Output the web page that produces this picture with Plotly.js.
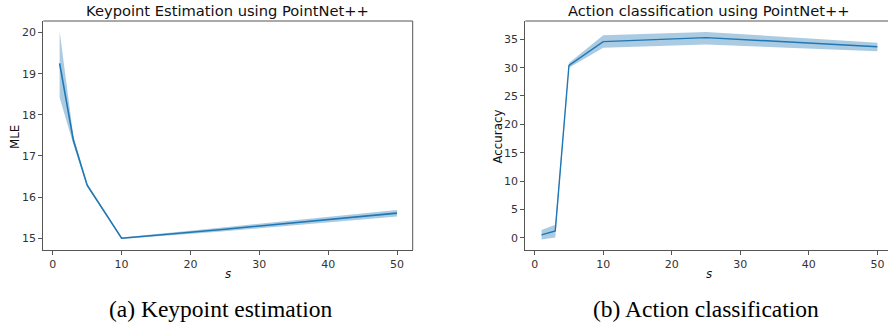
<!DOCTYPE html>
<html>
<head>
<meta charset="utf-8">
<script src="https://cdn.plot.ly/plotly-3.0.1.min.js"></script>
<style>
html,body{margin:0;padding:0;background:#fff;overflow:hidden;}
#chart{width:888px;height:327px;}
</style>
</head>
<body>
<div id="chart"></div>
<script>
// Shared x values (s)
var sValues = [1, 3, 5, 10, 25, 50];

// (a) Keypoint estimation: MLE mean and confidence band
var mleMean  = [19.25, 17.38, 16.29, 15.00, 15.22, 15.61];
var mleUpper = [20.03, 17.48, 16.33, 15.02, 15.27, 15.69];
var mleLower = [18.42, 17.28, 16.25, 14.98, 15.17, 15.53];

// (b) Action classification: accuracy mean and confidence band
var accMean  = [0.5, 1.2, 30.4, 34.6, 35.3, 33.7];
var accUpper = [1.35, 2.3, 30.8, 35.7, 36.3, 34.4];
var accLower = [-0.3, 0.05, 30.0, 33.5, 34.1, 32.9];

var xTicks = [0, 10, 20, 30, 40, 50];
var leftYTicks = [15, 16, 17, 18, 19, 20];
var rightYTicks = [0, 5, 10, 15, 20, 25, 30, 35];

var titleA = 'Keypoint Estimation using PointNet++';
var titleB = 'Action classification using PointNet++';
var ylabelA = 'MLE';
var ylabelB = 'Accuracy';
var xlabel = 's';
var captionA = '(a) Keypoint estimation';
var captionB = '(b) Action classification';

var W = 888, H = 327;
function px(x){ return x / W; }
function py(y){ return 1 - y / H; }

var lineColor = '#1f77b4';
var bandColor = 'rgba(31,119,180,0.38)';
var spine = '#555555';
var tickFont = {family: 'DejaVu Sans', size: 11, color: '#333333'};
var titleFont = {family: 'DejaVu Sans', size: 14.7, color: '#111111'};
var labelFont = {family: 'DejaVu Sans', size: 11.8, color: '#111111'};
var captionFont = {family: 'Liberation Serif', size: 23.5, color: '#000000'};

function band(x, lo, hi, xa, ya){
  return {
    x: x.concat(x.slice().reverse()),
    y: hi.concat(lo.slice().reverse()),
    xaxis: xa, yaxis: ya,
    type: 'scatter', mode: 'lines', fill: 'toself',
    fillcolor: bandColor, line: {width: 0}, hoverinfo: 'skip', showlegend: false
  };
}

var traces = [
  band(sValues, mleLower, mleUpper, 'x', 'y'),
  {x: sValues, y: mleMean, xaxis: 'x', yaxis: 'y', type: 'scatter', mode: 'lines',
   line: {color: lineColor, width: 1.6}, showlegend: false},
  band(sValues, accLower, accUpper, 'x2', 'y2'),
  {x: sValues, y: accMean, xaxis: 'x2', yaxis: 'y2', type: 'scatter', mode: 'lines',
   line: {color: lineColor, width: 1.4}, showlegend: false}
];

var yTop = 21, yBot = 250;
var axCommon = {
  showgrid: false, zeroline: false, showline: true, linecolor: spine, linewidth: 1,
  ticks: 'outside', ticklen: 4, tickcolor: spine, tickwidth: 1, tickfont: tickFont,
  fixedrange: true
};
function ax(extra){ return Object.assign({}, axCommon, extra); }

function note(text, x, y, font, angle){
  return {text: text, xref: 'paper', yref: 'paper', x: px(x), y: py(y), textangle: angle || 0,
          xanchor: 'center', yanchor: 'middle', showarrow: false, font: font};
}

var layout = {
  width: W, height: H,
  margin: {l: 0, r: 0, t: 0, b: 0},
  paper_bgcolor: '#ffffff', plot_bgcolor: '#ffffff',
  showlegend: false,
  xaxis: ax({domain: [px(43.3), px(412.7)], range: [-1.37, 52.28], tickvals: xTicks, anchor: 'y'}),
  yaxis: ax({domain: [py(yBot), py(yTop)], range: [14.715, 20.28], tickvals: leftYTicks, anchor: 'x'}),
  xaxis2: ax({domain: [px(525.3), 1], range: [-1.37, 51.55], tickvals: xTicks, anchor: 'y2'}),
  yaxis2: ax({domain: [py(yBot), py(yTop)], range: [-2.17, 38.23], tickvals: rightYTicks, anchor: 'x2'}),
  shapes: [
    {type: 'line', xref: 'paper', yref: 'paper', x0: px(43.3), x1: px(412.7), y0: py(yTop), y1: py(yTop), line: {color: spine, width: 1}},
    {type: 'line', xref: 'paper', yref: 'paper', x0: px(412.7), x1: px(412.7), y0: py(yTop), y1: py(yBot), line: {color: spine, width: 1}},
    {type: 'line', xref: 'paper', yref: 'paper', x0: px(525.3), x1: 1, y0: py(yTop), y1: py(yTop), line: {color: spine, width: 1}}
  ],
  annotations: [
    note(titleA, 227.7, 11, titleFont),
    note(titleB, 709.3, 11, titleFont),
    note(ylabelA, 15, 137, labelFont, -90),
    note(ylabelB, 497.5, 137, labelFont, -90),
    note('<i>' + xlabel + '</i>', 227.7, 274, labelFont),
    note('<i>' + xlabel + '</i>', 709.3, 274, labelFont),
    note(captionA, 220.5, 308.5, captionFont),
    note(captionB, 705.5, 308.5, captionFont)
  ]
};

Plotly.newPlot('chart', traces, layout, {displayModeBar: false, staticPlot: true});
</script>
</body>
</html>
